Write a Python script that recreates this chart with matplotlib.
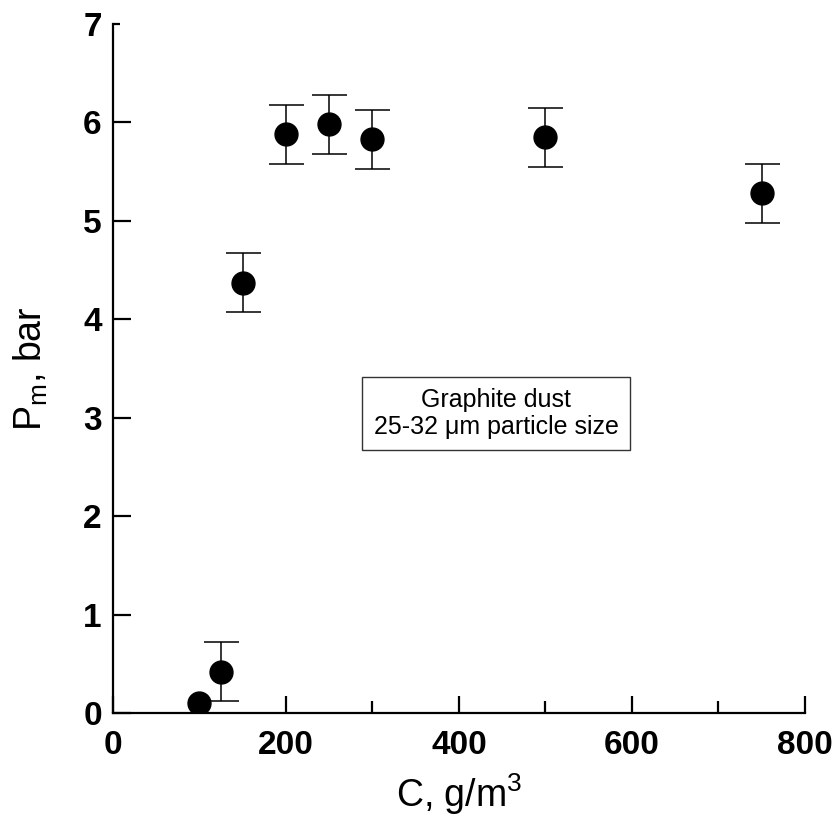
import numpy as np
import matplotlib
matplotlib.use("Agg")
import matplotlib.pyplot as plt

plt.rcParams['font.family'] = ['Liberation Sans', 'DejaVu Sans']

# concentration g/m3, pressure bar, error bar half-width
conc = [100, 125, 150, 200, 250, 300, 500, 750]
pmax = [0.10, 0.42, 4.37, 5.88, 5.98, 5.83, 5.85, 5.28]
perr = [0.0, 0.30, 0.30, 0.30, 0.30, 0.30, 0.30, 0.30]

x_ticks = [0, 200, 400, 600, 800]
y_ticks = [0, 1, 2, 3, 4, 5, 6, 7]

fig = plt.figure(figsize=(8.38, 8.23), dpi=100)
ax = fig.add_axes([0.1348, 0.1337, 0.9606 - 0.1348, 0.9708 - 0.1337])

c = np.array(conc)
p = np.array(pmax)
e = np.array(perr)
m = e > 0

ax.errorbar(c[m], p[m], yerr=e[m], fmt='none', ecolor='black',
            elinewidth=1.1, capsize=12.6, capthick=1.1, zorder=2)
ax.plot(c, p, 'o', color='black', markersize=16.5, zorder=3)

ax.set_xlim(0, 800)
ax.set_ylim(0, 7)
ax.set_xticks(x_ticks)
ax.set_xticks([100, 300, 500, 700], minor=True)
ax.set_yticks(y_ticks)

for s in ['top', 'right']:
    ax.spines[s].set_visible(False)
for s in ['left', 'bottom']:
    ax.spines[s].set_linewidth(1.6)

ax.tick_params(axis='x', which='major', direction='in', length=12.5, width=1.6, pad=12)
ax.tick_params(axis='x', which='minor', direction='in', length=8.5, width=1.6)
ax.tick_params(axis='y', which='major', direction='in', length=13, width=1.6, pad=8)
ax.yaxis.get_major_ticks()[-1].tick1line.set_markersize(5)

for lab in ax.get_xticklabels() + ax.get_yticklabels():
    lab.set_fontsize(24)
    lab.set_fontweight('bold')

ax.set_xlabel('C, g/m$^{\\mathregular{3}}$', fontsize=27, labelpad=8)
ax.set_ylabel('P$_{\\mathregular{m}}$, bar', fontsize=27, labelpad=24)

ax.text(443, 3.04, 'Graphite dust\n25-32 \u03bcm particle size', fontsize=18,
        ha='center', va='center', multialignment='center', linespacing=1.15,
        bbox=dict(boxstyle='square,pad=0.45', facecolor='white',
                  edgecolor='#333333', linewidth=1.0))

fig.savefig('out.png', dpi=100)
